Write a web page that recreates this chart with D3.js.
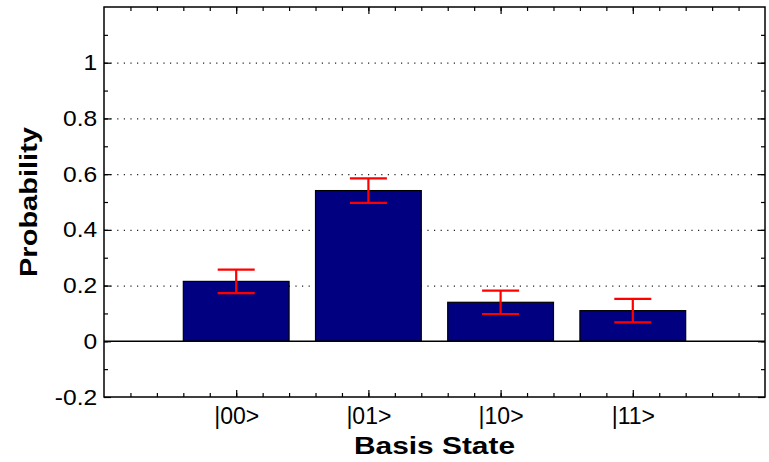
<!DOCTYPE html>
<html>
<head>
<meta charset="utf-8">
<script src="https://cdn.jsdelivr.net/npm/d3@7/dist/d3.min.js"></script>
<style>
  html, body { margin: 0; padding: 0; background: #fff; }
  svg { display: block; }
  text { font-family: "Liberation Sans", Arial, Helvetica, sans-serif; fill: #000; }
</style>
</head>
<body>
<svg id="chart" width="769" height="462"></svg>
<script>
// Measured probabilities of each two-qubit basis state, with error bars
const categories = ["|00>", "|01>", "|10>", "|11>"];
const probabilities = [0.215, 0.541, 0.140, 0.110];
const errors = [0.042, 0.044, 0.042, 0.042];
const yTickValues = [-0.2, 0, 0.2, 0.4, 0.6, 0.8, 1];
const yTickLabels = ["-0.2", "0", "0.2", "0.4", "0.6", "0.8", "1"];
const gridValues = [0.2, 0.4, 0.6, 0.8, 1];

const svg = d3.select("#chart");
const plotLeft = 104, plotRight = 765, plotTop = 7, plotBottom = 397;

// Categories sit at 1..n on a continuous axis padded by one unit on each side
const x = d3.scaleLinear().domain([0, categories.length + 1]).range([plotLeft, plotRight]);
const y = d3.scaleLinear().domain([-0.2, 1.2]).range([plotBottom, plotTop]);
const barWidth = 0.8, capHalf = 0.14;

// Dotted horizontal grid
svg.append("g")
  .attr("transform", `translate(${plotLeft},0)`)
  .call(d3.axisLeft(y).tickValues(gridValues).tickSize(-(plotRight - plotLeft)).tickFormat(""))
  .call(g => g.select(".domain").remove())
  .call(g => g.selectAll("line")
    .attr("stroke", "#222").attr("stroke-width", 1.2).attr("stroke-dasharray", "1.2,5.4"));

// Bars
svg.append("g").selectAll("rect")
  .data(probabilities)
  .join("rect")
  .attr("x", (d, i) => x(i + 1 - barWidth / 2))
  .attr("width", x(barWidth) - x(0))
  .attr("y", d => y(d))
  .attr("height", d => y(0) - y(d))
  .attr("fill", "#000080")
  .attr("stroke", "#000")
  .attr("stroke-width", 1.2);

// Zero baseline
svg.append("line")
  .attr("x1", plotLeft).attr("x2", plotRight)
  .attr("y1", y(0)).attr("y2", y(0))
  .attr("stroke", "#000").attr("stroke-width", 1.5);

// Error bars
const eb = svg.append("g").attr("stroke", "#ff0000").attr("stroke-width", 2.2).attr("fill", "none");
probabilities.forEach((p, i) => {
  const e = errors[i], c = i + 1;
  eb.append("line").attr("x1", x(c)).attr("x2", x(c)).attr("y1", y(p + e)).attr("y2", y(p - e));
  eb.append("line").attr("x1", x(c - capHalf)).attr("x2", x(c + capHalf)).attr("y1", y(p + e)).attr("y2", y(p + e));
  eb.append("line").attr("x1", x(c - capHalf)).attr("x2", x(c + capHalf)).attr("y1", y(p - e)).attr("y2", y(p - e));
});

// Minor tick positions
const xMinor = d3.range(1, 25).map(k => k / 5);
const yMinor = d3.range(-1, 12).map(k => k / 10);
const xMajor = categories.map((c, i) => i + 1);

function styleTicks(g) {
  g.select(".domain").remove();
  g.selectAll("line").attr("stroke", "#000").attr("stroke-width", 1.2);
}

// Inward minor ticks on all four sides
svg.append("g").attr("transform", `translate(0,${plotBottom})`)
  .call(d3.axisBottom(x).tickValues(xMinor).tickSize(-4).tickFormat("")).call(styleTicks);
svg.append("g").attr("transform", `translate(0,${plotTop})`)
  .call(d3.axisTop(x).tickValues(xMinor).tickSize(-4).tickFormat("")).call(styleTicks);
svg.append("g").attr("transform", `translate(${plotLeft},0)`)
  .call(d3.axisLeft(y).tickValues(yMinor).tickSize(-4).tickFormat("")).call(styleTicks);
svg.append("g").attr("transform", `translate(${plotRight},0)`)
  .call(d3.axisRight(y).tickValues(yMinor).tickSize(-4).tickFormat("")).call(styleTicks);

// Major ticks on top and right
svg.append("g").attr("transform", `translate(0,${plotTop})`)
  .call(d3.axisTop(x).tickValues(xMajor).tickSize(-7).tickFormat("")).call(styleTicks);
svg.append("g").attr("transform", `translate(${plotRight},0)`)
  .call(d3.axisRight(y).tickValues(yTickValues).tickSize(-7).tickFormat("")).call(styleTicks);

// Labelled left axis
svg.append("g").attr("transform", `translate(${plotLeft},0)`)
  .call(d3.axisLeft(y).tickValues(yTickValues).tickSize(-7).tickPadding(6)
    .tickFormat((d, i) => yTickLabels[i]))
  .call(styleTicks)
  .call(g => g.selectAll("text")
    .attr("font-size", 22)
    .attr("font-family", "Liberation Sans, Arial, sans-serif")
    .attr("transform", "scale(1.12,1)"));

// Labelled bottom axis
svg.append("g").attr("transform", `translate(0,${plotBottom})`)
  .call(d3.axisBottom(x).tickValues(xMajor).tickSize(-7).tickPadding(11)
    .tickFormat((d, i) => categories[i]))
  .call(styleTicks)
  .call(g => g.selectAll("text")
    .attr("font-size", 23)
    .attr("font-family", "Liberation Sans, Arial, sans-serif"));

// Plot frame
svg.append("rect")
  .attr("x", plotLeft).attr("y", plotTop)
  .attr("width", plotRight - plotLeft).attr("height", plotBottom - plotTop)
  .attr("fill", "none").attr("stroke", "#000").attr("stroke-width", 1.5);

// Axis titles
svg.append("text")
  .attr("x", (plotLeft + plotRight) / 2).attr("y", 454)
  .attr("text-anchor", "middle")
  .attr("font-size", 24).attr("font-weight", "bold")
  .attr("textLength", 161).attr("lengthAdjust", "spacingAndGlyphs")
  .text("Basis State");

svg.append("text")
  .attr("transform", `translate(37,${(plotTop + plotBottom) / 2}) rotate(-90)`)
  .attr("text-anchor", "middle")
  .attr("font-size", 24).attr("font-weight", "bold")
  .attr("textLength", 150).attr("lengthAdjust", "spacingAndGlyphs")
  .text("Probability");
</script>
</body>
</html>
